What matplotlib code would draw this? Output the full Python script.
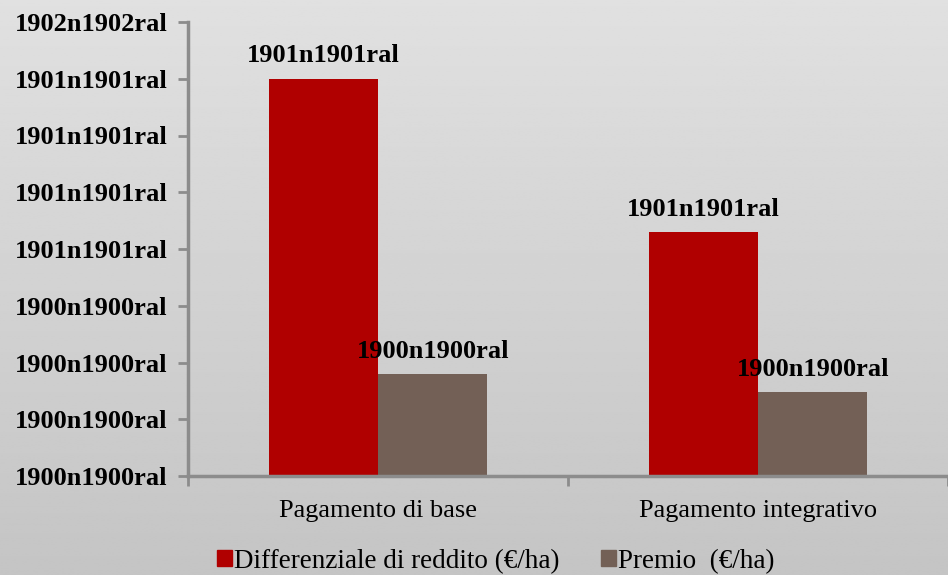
import numpy as np
import matplotlib.pyplot as plt
from matplotlib.patches import Patch

categories = ["Pagamento di base", "Pagamento integrativo"]
series_names = ["Differenziale di reddito (€/ha)", "Premio  (€/ha)"]
differenziale = [7.0, 4.3]
premio = [1.8, 1.48]
value_labels = [["1901n1901ral", "1901n1901ral"], ["1900n1900ral", "1900n1900ral"]]
ytick_labels = ["1900n1900ral", "1900n1900ral", "1900n1900ral", "1900n1900ral",
                "1901n1901ral", "1901n1901ral", "1901n1901ral", "1901n1901ral",
                "1902n1902ral"]

red = "#b00000"
brown = "#736056"
axis_grey = "#8c8c8c"

plt.rcParams["font.family"] = ["Liberation Serif", "DejaVu Serif"]

fig = plt.figure(figsize=(9.48, 5.75), dpi=100)

# soft vertical gradient behind everything
bg = fig.add_axes([0, 0, 1, 1], zorder=-10)
grad = np.linspace(0.88, 0.77, 256).reshape(-1, 1)
bg.imshow(np.repeat(grad, 2, axis=1), cmap="gray", vmin=0, vmax=1,
          aspect="auto", extent=[0, 1, 0, 1])
bg.axis("off")

ax = fig.add_axes([188 / 948, 1 - 476 / 575, 760 / 948, 454 / 575])
ax.patch.set_alpha(0)

x = np.arange(len(categories))
w = 0.288
b1 = ax.bar(x - w / 2, differenziale, w, color=red, label=series_names[0])
b2 = ax.bar(x + w / 2, premio, w, color=brown, label=series_names[1])

for bars, labs in zip([b1, b2], value_labels):
    for rect, lab in zip(bars, labs):
        ax.text(rect.get_x() + rect.get_width() / 2, rect.get_height() + 0.2, lab,
                ha="center", va="bottom", fontsize=19, fontweight="bold")

ax.set_xlim(-0.5, -0.5 + 760 / 382)
ax.set_ylim(0, 8)
ax.set_yticks(range(len(ytick_labels)))
ax.set_yticklabels(ytick_labels, fontsize=19, fontweight="bold")

ax.set_xticks(x)
ax.set_xticklabels(categories, fontsize=19)
ax.set_xticks([-0.5, 0.5, 1.5], minor=True)
ax.tick_params(axis="x", which="major", length=0, pad=17)
ax.tick_params(axis="x", which="minor", length=7, width=2, color=axis_grey)
ax.tick_params(axis="y", length=7, width=2, color=axis_grey, pad=8)

for side in ["top", "right"]:
    ax.spines[side].set_visible(False)
for side in ["left", "bottom"]:
    ax.spines[side].set_color(axis_grey)
    ax.spines[side].set_linewidth(2.5)

handles = [Patch(color=red), Patch(color=brown)]
fig.legend(handles, series_names, loc="center", bbox_to_anchor=(0.523, 0.024),
           ncol=2, frameon=False, fontsize=19.5, handlelength=0.55, handleheight=0.55,
           handletextpad=0.1, columnspacing=1.5, borderpad=0)

fig.savefig("out.png", dpi=100)
